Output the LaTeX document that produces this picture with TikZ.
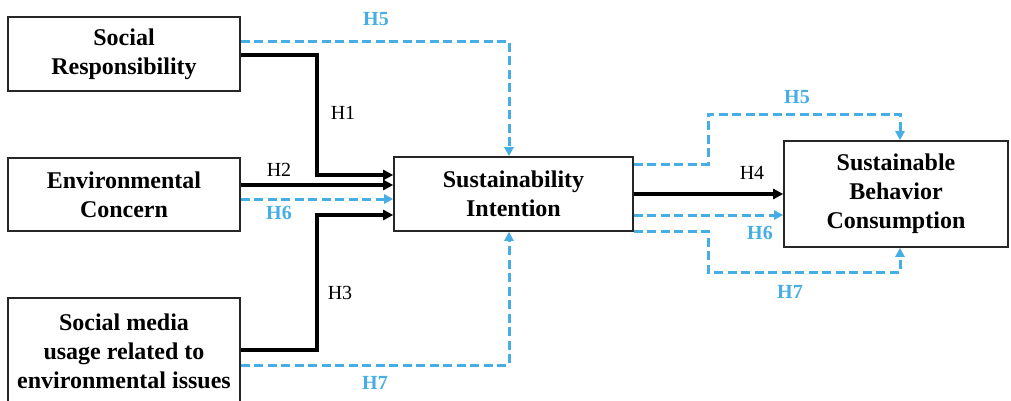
\documentclass[tikz,border=0pt]{standalone}
\usepackage{fontspec}
\setmainfont{Liberation Serif}
\usetikzlibrary{arrows.meta}
\definecolor{hblue}{RGB}{70,174,228}
\tikzset{
  box/.style={draw=black!85, line width=1.6pt, fill=white, align=center, inner sep=0pt,
    font=\fontsize{24}{29}\selectfont\bfseries},
  blk/.style={draw=black, line width=3.4pt, -{Triangle[length=10pt,width=10pt]}},
  dsh/.style={draw=hblue, line width=3pt, dash pattern=on 9pt off 4.5pt, -{Triangle[length=9pt,width=9pt]}},
  lbl/.style={font=\fontsize{20}{24}\selectfont, text=black, inner sep=0pt},
  blbl/.style={font=\fontsize{20}{24}\selectfont\bfseries, text=hblue, inner sep=0pt}
}
\begin{document}
\begin{tikzpicture}[x=1pt,y=-1pt]
\useasboundingbox (0,0) rectangle (1011,400);
\begin{scope}
\clip (0,0) rectangle (1011,400);
\node[box, minimum width=232pt, minimum height=74pt] (SR) at (124,54) {Social\\Responsibility};
\node[box, minimum width=232pt, minimum height=73pt] (EC) at (124,194.5) {Environmental\\Concern};
\node[box, minimum width=232pt, minimum height=106pt] (SM) at (124,351) {Social media\\usage related to\\environmental issues};
\node[box, minimum width=239pt, minimum height=74pt] (SI) at (513.5,194) {Sustainability\\Intention};
\node[box, minimum width=224pt, minimum height=106pt] (SBC) at (896,194) {Sustainable\\Behavior\\Consumption};
\end{scope}
% left side
\draw[blk] (SR.east |- 0,55) -| (317,175) -- (SI.west |- 0,175);
\draw[blk] (EC.east |- 0,185) -- (SI.west |- 0,185);
\draw[dsh] (EC.east |- 0,199) -- (SI.west |- 0,199);
\draw[blk] (SM.east |- 0,350) -| (317,215) -- (SI.west |- 0,215);
\draw[dsh] (SR.east |- 0,41) -| (509,0 |- SI.north);
\draw[dsh] (SM.east |- 0,365) -| (509,0 |- SI.south);
% right side
\draw[dsh] (SI.east |- 0,164) -| (708,114) -| (900,0 |- SBC.north);
\draw[blk] (SI.east |- 0,194) -- (SBC.west |- 0,194);
\draw[dsh] (SI.east |- 0,215) -- (SBC.west |- 0,215);
\draw[dsh] (SI.east |- 0,231) -| (708,272) -| (900,0 |- SBC.south);
% labels
\node[blbl] (l5a) at (376,19) {H5};
\node[lbl] (l1) at (343,113) {H1};
\node[lbl] (l2) at (279,170) {H2};
\node[blbl] (l6a) at (279,213) {H6};
\node[lbl] (l3) at (340,293) {H3};
\node[blbl] (l7a) at (375,383) {H7};
\node[blbl] (l5b) at (797,97) {H5};
\node[lbl] (l4) at (752,173) {H4};
\node[blbl] (l6b) at (760,233) {H6};
\node[blbl] (l7b) at (790,292) {H7};
\end{tikzpicture}
\end{document}
